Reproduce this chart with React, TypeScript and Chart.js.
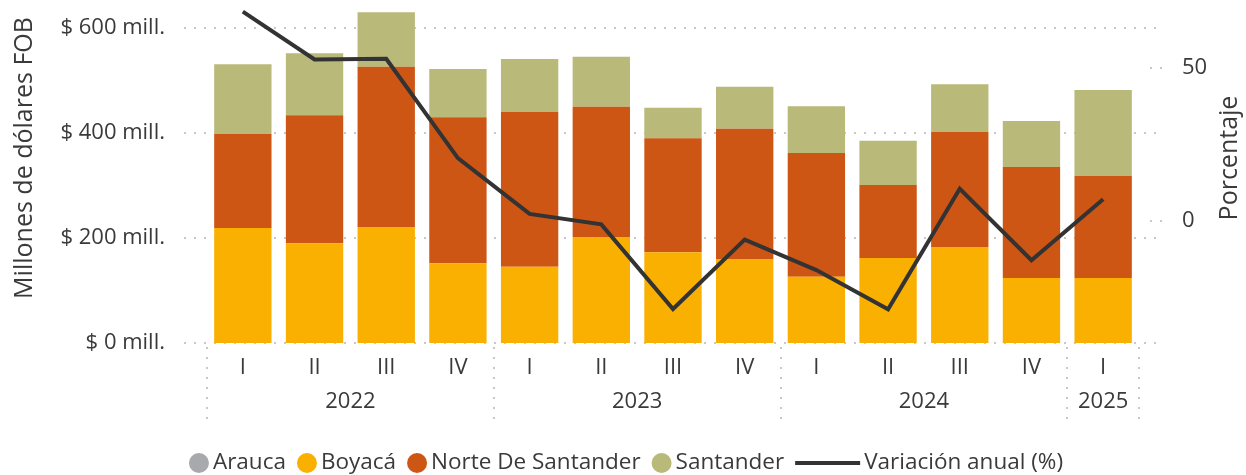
import { useEffect, useRef } from 'react';
import { Chart, registerables } from 'chart.js';

Chart.register(...registerables);

const quarters = ['I', 'II', 'III', 'IV', 'I', 'II', 'III', 'IV', 'I', 'II', 'III', 'IV', 'I'];
const categoryYears = ['2022', '2022', '2022', '2022', '2023', '2023', '2023', '2023', '2024', '2024', '2024', '2024', '2025'];
const arauca = [0, 0, 0, 0, 0, 0, 0, 0, 0, 0, 0, 0, 0];
const boyaca = [219, 190, 221, 152, 145, 202, 173, 160, 126, 162, 183, 124, 124];
const norteDeSantander = [179, 244, 305, 278, 295, 248, 217, 248, 236, 139, 219, 211, 194];
const santander = [133, 118, 104, 92, 101, 95, 58, 80, 89, 84, 91, 88, 164];
const variacionAnual = [68.3, 52.7, 52.9, 20.5, 2.3, -1.1, -28.7, -6.1, -16.0, -28.8, 10.5, -12.8, 7.1];
const leftTicks = [0, 200, 400, 600];
const rightTicks = [0, 50];

const FONT = '"Open Sans", "Noto Sans", sans-serif';
const TEXT = '#3a3a3a';
const GRID = '#c8c8c8';

const COLORS = {
  arauca: '#A7A9AC',
  boyaca: '#F9B000',
  nds: '#CE5615',
  santander: '#B9B97A',
  line: '#333333',
};

const legendItems = [
  { label: 'Arauca', color: COLORS.arauca, kind: 'circle' },
  { label: 'Boyacá', color: COLORS.boyaca, kind: 'circle' },
  { label: 'Norte De Santander', color: COLORS.nds, kind: 'circle' },
  { label: 'Santander', color: COLORS.santander, kind: 'circle' },
  { label: 'Variación anual (%)', color: COLORS.line, kind: 'line' },
];

const decorPlugin = {
  id: 'decor',
  beforeDatasetsDraw(chart: any) {
    const { ctx, chartArea: ca, scales } = chart;
    const y = scales.y;
    const y1 = scales.y1;
    const x = scales.x;
    ctx.save();
    ctx.strokeStyle = GRID;
    ctx.lineWidth = 2;
    ctx.setLineDash([2, 8]);
    leftTicks.forEach((v) => {
      const py = Math.round(y.getPixelForValue(v));
      ctx.beginPath();
      ctx.moveTo(ca.left - 23, py);
      ctx.lineTo(ca.right + 17, py);
      ctx.stroke();
    });
    rightTicks.forEach((v) => {
      const py = Math.round(y1.getPixelForValue(v));
      ctx.beginPath();
      ctx.moveTo(ca.right + 11, py);
      ctx.lineTo(ca.right + 25, py);
      ctx.stroke();
    });
    const half = (x.getPixelForValue(1) - x.getPixelForValue(0)) / 2;
    const bounds: number[] = [];
    for (let i = 0; i < categoryYears.length; i++) {
      if (i === 0 || categoryYears[i] !== categoryYears[i - 1]) bounds.push(x.getPixelForValue(i) - half);
    }
    bounds.push(x.getPixelForValue(categoryYears.length - 1) + half);
    bounds.forEach((bx) => {
      const px = Math.round(bx);
      ctx.beginPath();
      ctx.moveTo(px, ca.bottom + 4);
      ctx.lineTo(px, ca.bottom + 78);
      ctx.stroke();
    });
    ctx.restore();
  },
  afterDraw(chart: any) {
    const { ctx, chartArea: ca, scales, width } = chart;
    const x = scales.x;
    ctx.save();
    ctx.fillStyle = TEXT;
    // year labels
    ctx.font = `22px ${FONT}`;
    ctx.textAlign = 'center';
    ctx.textBaseline = 'middle';
    let start = 0;
    for (let i = 1; i <= categoryYears.length; i++) {
      if (i === categoryYears.length || categoryYears[i] !== categoryYears[start]) {
        const cx = (x.getPixelForValue(start) + x.getPixelForValue(i - 1)) / 2;
        ctx.fillText(categoryYears[start], cx, ca.bottom + 59);
        start = i;
      }
    }
    // axis titles
    ctx.font = `25px ${FONT}`;
    ctx.textBaseline = 'alphabetic';
    ctx.save();
    ctx.translate(32, 158);
    ctx.rotate(-Math.PI / 2);
    ctx.fillText('Millones de dólares FOB', 0, 0);
    ctx.restore();
    ctx.save();
    ctx.translate(1237, 158);
    ctx.rotate(-Math.PI / 2);
    ctx.fillText('Porcentaje', 0, 0);
    ctx.restore();
    // legend
    ctx.font = `22.5px ${FONT}`;
    ctx.textAlign = 'left';
    ctx.textBaseline = 'middle';
    const ly = 463;
    const gapSym = 4;
    const gapItem = 11;
    const widths = legendItems.map((it) => {
      const sym = it.kind === 'line' ? 65 : 20;
      return sym + gapSym + ctx.measureText(it.label).width;
    });
    const total = widths.reduce((a, b) => a + b, 0) + gapItem * (legendItems.length - 1);
    let lx = width / 2 - total / 2 + 3;
    legendItems.forEach((it, i) => {
      if (it.kind === 'circle') {
        ctx.fillStyle = it.color;
        ctx.beginPath();
        ctx.arc(lx + 10, ly, 10, 0, Math.PI * 2);
        ctx.fill();
        ctx.fillStyle = TEXT;
        ctx.fillText(it.label, lx + 20 + gapSym, ly);
      } else {
        ctx.strokeStyle = it.color;
        ctx.lineWidth = 4;
        ctx.beginPath();
        ctx.moveTo(lx, ly);
        ctx.lineTo(lx + 65, ly);
        ctx.stroke();
        ctx.fillStyle = TEXT;
        ctx.fillText(it.label, lx + 65 + gapSym, ly);
      }
      lx += widths[i] + gapItem;
    });
    ctx.restore();
  },
};

export default function App() {
  const ref = useRef<HTMLCanvasElement | null>(null);
  useEffect(() => {
    if (!ref.current) return;
    const tickFont = { family: FONT, size: 22 };
    const chart = new Chart(ref.current, {
      type: 'bar',
      data: {
        labels: quarters,
        datasets: [
          { label: 'Arauca', data: arauca, backgroundColor: COLORS.arauca, yAxisID: 'y', order: 1 },
          { label: 'Boyacá', data: boyaca, backgroundColor: COLORS.boyaca, yAxisID: 'y', order: 1 },
          { label: 'Norte De Santander', data: norteDeSantander, backgroundColor: COLORS.nds, yAxisID: 'y', order: 1 },
          { label: 'Santander', data: santander, backgroundColor: COLORS.santander, yAxisID: 'y', order: 1 },
          {
            type: 'line',
            label: 'Variación anual (%)',
            data: variacionAnual,
            yAxisID: 'y1',
            borderColor: COLORS.line,
            backgroundColor: COLORS.line,
            borderWidth: 4,
            pointRadius: 0,
            tension: 0,
            order: 0,
            clip: false,
          } as any,
        ],
      },
      options: {
        responsive: false,
        animation: false,
        layout: { padding: 0 },
        plugins: { legend: { display: false }, tooltip: { enabled: false } },
        datasets: { bar: { categoryPercentage: 1, barPercentage: 0.8 } },
        scales: {
          x: {
            stacked: true,
            grid: { display: false, drawTicks: false },
            border: { display: false },
            ticks: { font: tickFont, color: TEXT, padding: 12, maxRotation: 0, autoSkip: false },
            afterFit: (s: any) => {
              s.height = 132;
              s.paddingLeft = 0;
              s.paddingRight = 0;
            },
          },
          y: {
            stacked: true,
            position: 'left',
            min: 0,
            max: 653.3,
            grid: { display: false, drawTicks: false },
            border: { display: false },
            ticks: { font: tickFont, color: TEXT, padding: 42, callback: (v: any) => `$ ${v} mill.` },
            afterBuildTicks: (s: any) => {
              s.ticks = leftTicks.map((v) => ({ value: v }));
            },
            afterFit: (s: any) => {
              s.width = 207;
              s.paddingTop = 0;
              s.paddingBottom = 0;
            },
          },
          y1: {
            position: 'right',
            min: -39.8,
            max: 72.08,
            grid: { display: false, drawTicks: false },
            border: { display: false },
            ticks: { font: tickFont, color: TEXT, padding: 43 },
            afterBuildTicks: (s: any) => {
              s.ticks = rightTicks.map((v) => ({ value: v }));
            },
            afterFit: (s: any) => {
              s.width = 107;
              s.paddingTop = 0;
              s.paddingBottom = 0;
            },
          },
        },
      } as any,
      plugins: [decorPlugin],
    });
    return () => chart.destroy();
  }, []);
  return (
    <div style={{ position: 'fixed', left: 0, top: 0, width: 1246, height: 475, background: '#fff' }}>
      <canvas ref={ref} width={1246} height={475} style={{ display: 'block', width: 1246, height: 475 }} />
    </div>
  );
}
